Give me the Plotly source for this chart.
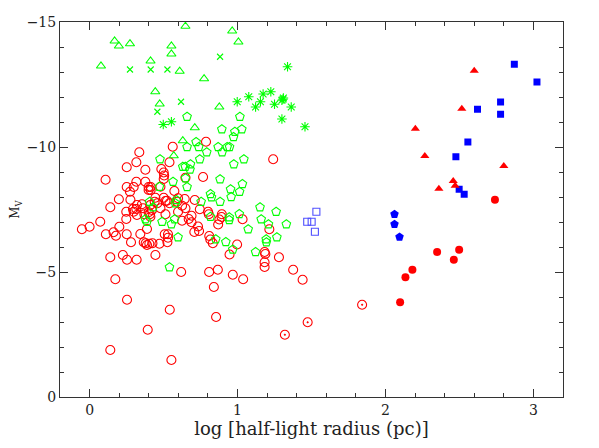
import plotly.graph_objects as go

# ---- data (log r_h [pc], M_V) ----
gc_x = [0.562,0.787,0.336,0.316,0.540,0.251,0.377,1.241,0.108,0.316,0.377,0.251,0.298,0.273,
        0.485,0.501,0.504,0.501,0.648,0.767,0.479,0.399,0.413,0.399,0.413,0.573,0.198,0.276,
        0.445,0.440,0.458,0.501,0.513,0.523,0.598,0.591,0.643,0.711,0.320,0.316,0.354,0.361,
        0.293,0.298,0.248,0.140,0.411,0.422,0.399,0.479,0.540,0.625,0.648,0.745,0.801,0.806,
        0.320,0.370,0.408,0.411,0.513,0.598,0.689,0.670,0.689,0.625,0.894,0.892,0.877,0.869,
        1.034,0.733,0.740,0.708,0.072,0.000,-0.052,0.201,0.248,0.162,0.178,0.110,0.251,0.343,
        0.388,0.280,0.366,0.379,0.388,0.404,0.472,0.425,0.508,0.530,0.530,0.526,0.809,0.816,
        0.833,0.997,1.215,1.183,1.188,1.183,1.183,1.280,0.946,0.445,0.140,0.225,0.253,0.318,
        1.376,1.440,0.619,0.808,0.867,0.968,1.038,0.840,0.174,0.253,0.542,0.855,0.393,0.140,0.553]
gc_m = [-10.01,-10.21,-9.79,-9.39,-9.39,-9.19,-9.09,-9.51,-8.69,-8.61,-8.61,-8.40,-8.40,-8.21,
        -9.12,-8.98,-8.86,-8.72,-8.77,-8.80,-8.41,-8.40,-8.40,-8.28,-8.28,-8.24,-7.91,-7.89,
        -7.97,-7.81,-7.75,-7.97,-7.84,-7.85,-7.95,-7.81,-7.92,-7.88,-7.68,-7.52,-7.71,-7.55,
        -7.52,-7.41,-7.41,-7.59,-7.68,-7.48,-7.39,-7.55,-7.75,-7.65,-7.55,-7.51,-7.41,-7.31,
        -7.28,-7.31,-7.31,-7.21,-7.31,-7.41,-7.25,-7.12,-6.99,-7.05,-7.31,-7.20,-7.10,-6.90,
        -7.11,-6.82,-6.64,-6.60,-7.01,-6.81,-6.71,-6.81,-7.12,-6.59,-6.45,-6.51,-6.51,-6.52,
        -6.72,-6.19,-6.19,-6.15,-6.08,-6.13,-6.13,-6.15,-6.51,-6.51,-6.37,-6.19,-6.44,-6.30,
        -6.15,-6.10,-6.71,-5.80,-5.72,-5.39,-5.20,-5.59,-5.70,-5.68,-5.59,-5.68,-5.49,-5.49,
        -5.09,-4.69,-5.00,-5.00,-5.09,-4.89,-4.71,-4.40,-4.71,-3.89,-3.49,-3.20,-2.69,-1.88,-1.48]

pent_x = [0.659,1.016,0.894,1.029,0.982,0.973,0.720,0.659,0.738,0.792,0.869,0.896,0.930,0.946,
          0.476,0.745,1.043,0.975,0.630,0.647,0.682,0.679,0.648,0.564,0.659,0.472,0.882,1.033,
          0.953,1.014,0.957,0.817,0.824,0.754,0.882,0.406,0.429,0.587,0.580,1.152,1.261,1.012,
          0.817,0.944,0.944,1.160,0.377,0.388,0.490,0.575,0.553,1.209,1.330,1.072,1.266,1.194,
          1.195,0.853,0.921,0.598,0.968,1.122,0.540]
pent_m = [-11.21,-11.21,-10.71,-10.71,-10.61,-10.40,-10.20,-10.00,-10.00,-9.79,-10.00,-9.79,-10.00,-10.00,
          -9.51,-9.51,-9.51,-9.31,-9.21,-9.21,-9.31,-9.10,-8.75,-8.61,-8.40,-8.41,-8.71,-8.52,
          -8.31,-8.21,-8.00,-8.12,-7.99,-7.81,-7.81,-7.81,-7.59,-7.88,-7.75,-7.59,-7.41,-7.32,
          -7.21,-7.19,-7.08,-7.11,-7.11,-7.01,-7.01,-7.11,-6.91,-6.91,-6.91,-6.71,-6.39,-6.31,
          -6.19,-6.31,-6.20,-6.39,-5.90,-5.80,-5.19]

tri_x = [0.077,0.169,0.198,0.273,0.648,0.553,0.553,0.412,0.609,0.964,1.006,0.774,0.444,0.474,0.877,0.711,0.630,0.569]
tri_m = [-13.24,-14.24,-14.04,-14.13,-14.83,-14.04,-13.72,-13.44,-13.03,-14.64,-14.20,-12.73,-12.21,-11.72,-11.60,-10.77,-10.25,-9.65]

cross_x = [0.273,0.413,0.526,0.882,0.618,0.458]
cross_m = [-13.10,-13.10,-13.10,-13.61,-11.81,-11.41]

ast_x = [0.498,0.553,0.998,1.076,1.122,1.155,1.173,1.225,1.307,1.310,1.300,1.250,1.363,1.338,1.300,1.456]
ast_m = [-10.90,-11.01,-11.81,-12.01,-11.60,-11.81,-12.12,-12.21,-11.91,-11.96,-11.87,-11.71,-11.60,-13.21,-11.12,-10.81]

bsq_x = [2.871,3.024,2.778,2.622,2.778,2.557,2.476,2.498,2.532]
bsq_m = [-13.31,-12.60,-11.80,-11.51,-11.31,-10.20,-9.61,-8.31,-8.11]

osq_x = [1.533,1.471,1.501,1.523]
osq_m = [-7.41,-7.01,-7.01,-6.61]

bpent_x = [2.061,2.061,2.095]
bpent_m = [-7.31,-6.91,-6.40]

rtri_x = [2.600,2.516,2.202,2.266,2.800,2.458,2.471,2.361]
rtri_m = [-13.05,-11.53,-10.73,-9.64,-9.24,-8.64,-8.45,-8.33]

rdot_x = [2.740,2.349,2.498,2.462,2.182,2.135,2.099]
rdot_m = [-7.89,-5.80,-5.89,-5.49,-5.09,-4.79,-3.79]

targ_x = [1.842,1.320,1.474]
targ_m = [-3.69,-2.49,-2.99]

x_major = [0, 1, 2, 3]
y_major = [-15, -10, -5, 0]

RED = "#ff0000"
GREEN = "#00ff00"
BLUE = "#0000ff"
FONT = "DejaVu Serif"

fig = go.Figure()

def add(x, y, symbol, color, size, lw=1.1):
    fig.add_trace(go.Scatter(
        x=x, y=y, mode="markers", showlegend=False, hoverinfo="skip",
        marker=dict(symbol=symbol, size=size, color=color,
                    line=dict(color=color, width=lw))))

add(gc_x, gc_m, "circle-open", RED, 9)
add(pent_x, pent_m, "pentagon-open", GREEN, 9)
add(tri_x, tri_m, "triangle-up-open", GREEN, 8)
add(cross_x, cross_m, "x-thin-open", GREEN, 6)
add(ast_x, ast_m, "asterisk-open", GREEN, 8)
add(osq_x, osq_m, "square-open", "#5050ff", 7)
add(bsq_x, bsq_m, "square", BLUE, 7, 0)
add(bpent_x, bpent_m, "pentagon", BLUE, 9, 0)
add(rtri_x, rtri_m, "triangle-up", RED, 8, 0)
add(rdot_x, rdot_m, "circle", RED, 8, 0)
add(targ_x, targ_m, "circle-open-dot", RED, 9)

axis_common = dict(
    showline=True, linecolor="#333333", linewidth=1, mirror="allticks",
    ticks="inside", ticklen=8, tickwidth=1, tickcolor="#333333",
    showgrid=False, zeroline=False, automargin=False,
    tickfont=dict(family=FONT, size=14, color="#222222"),
)

fig.update_layout(
    width=599, height=448,
    paper_bgcolor="white", plot_bgcolor="white",
    margin=dict(l=52, r=44, t=14, b=59),
    xaxis=dict(range=[-0.2, 3.2], tickvals=x_major, ticktext=[str(v) for v in x_major],
               minor=dict(tickvals=[round(-0.2 + 0.2 * i, 1) for i in range(18)],
                          ticks="inside", ticklen=4, tickcolor="#333333", showgrid=False),
               title=dict(text="log [half-light radius (pc)]", standoff=4,
                          font=dict(family=FONT, size=18, color="#222222")),
               **axis_common),
    yaxis=dict(range=[0, -15], tickvals=y_major,
               ticktext=[("\u2212" + str(-v)) if v < 0 else str(v) for v in y_major],
               minor=dict(tickvals=list(range(-15, 1)),
                          ticks="inside", ticklen=4, tickcolor="#333333", showgrid=False),
               title=dict(text="M<sub>V</sub>", standoff=24,
                          font=dict(family=FONT, size=12, color="#222222")),
               **axis_common),
)

fig.write_html("out.html")
